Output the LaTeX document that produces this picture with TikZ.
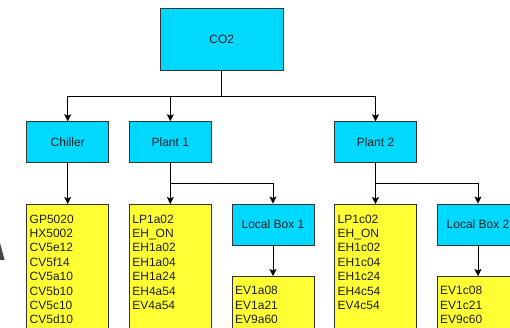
\documentclass[tikz,border=0pt]{standalone}
\usepackage{fontspec}
\setmainfont{Liberation Sans}
\usetikzlibrary{arrows.meta}
\definecolor{cyanbox}{RGB}{0,217,255}
\definecolor{yellowbox}{RGB}{255,255,51}
\definecolor{edgegray}{RGB}{51,51,51}
\definecolor{txt}{RGB}{30,30,30}
\tikzset{
  hbox/.style={draw=edgegray, line width=0.9pt, fill=cyanbox, minimum width=82pt, minimum height=41pt, inner sep=0pt, font=\fontsize{12}{14.4}\selectfont, text=txt},
  lbox/.style={draw=edgegray, line width=0.9pt, fill=yellowbox, minimum width=82pt, minimum height=140pt, inner sep=0pt, anchor=north},
  ltext/.style={anchor=north west, inner sep=0pt, align=left, font=\fontsize{12}{14.4}\selectfont, text=txt},
  arr/.style={draw=black, line width=0.8pt, -{Stealth[length=7pt,width=7pt,inset=1.5pt]}},
  ln/.style={draw=black, line width=0.8pt}
}
\begin{document}
\begin{tikzpicture}[x=1pt,y=-1pt]
\useasboundingbox (0,0) rectangle (510,327);
\clip (0,0) rectangle (510,327);
% partial glyph at left edge
\fill[edgegray!90] (0,243) -- (4.6,260) -- (0,260) -- cycle;
% header boxes
\node[hbox, minimum width=123pt, minimum height=62pt] (co2) at (221.7,39.2) {CO2};
\node[hbox] (chiller) at (67.7,142.2) {Chiller};
\node[hbox] (plant1) at (170.3,142.2) {Plant 1};
\node[hbox] (plant2) at (375.5,142.2) {Plant 2};
\node[hbox] (lb1) at (273,224.5) {Local Box 1};
\node[hbox] (lb2) at (478,224.5) {Local Box 2};
% list boxes
\node[lbox] (chl) at (67.7,204) {};
\node[lbox] (p1l) at (170.3,204) {};
\node[lbox] (p2l) at (375.5,204) {};
\node[lbox] (lb1l) at (273,276) {};
\node[lbox] (lb2l) at (478,276) {};
% list texts
\node[ltext] (chlt) at (29.5,214.6) {GP5020\\HX5002\\CV5e12\\CV5f14\\CV5a10\\CV5b10\\CV5c10\\CV5d10};
\node[ltext] (p1lt) at (132.2,214.6) {LP1a02\\EH\_ON\\EH1a02\\EH1a04\\EH1a24\\EH4a54\\EV4a54};
\node[ltext] (p2lt) at (337.5,214.6) {LP1c02\\EH\_ON\\EH1c02\\EH1c04\\EH1c24\\EH4c54\\EV4c54};
\node[ltext] (lb1lt) at (235,286.3) {EV1a08\\EV1a21\\EV9a60};
\node[ltext] (lb2lt) at (440,286.3) {EV1c08\\EV1c21\\EV9c60};
% connectors
\draw[ln] (co2.south) -- ++(0,26) coordinate (bus);
\draw[arr] (bus) -| (chiller.north);
\draw[arr] (bus) -| (plant1.north);
\draw[arr] (bus) -| (plant2.north);
\draw[arr] (chiller.south) -- (chl.north);
\draw[ln] (plant1.south) -- ++(0,20) coordinate (b1);
\draw[arr] (b1) -- (p1l.north);
\draw[arr] (b1) -| (lb1.north);
\draw[ln] (plant2.south) -- ++(0,20) coordinate (b2);
\draw[arr] (b2) -- (p2l.north);
\draw[arr] (b2) -| (lb2.north);
\draw[arr] (lb1.south) -- (lb1l.north);
\draw[arr] (lb2.south) -- (lb2l.north);
\end{tikzpicture}
\end{document}
